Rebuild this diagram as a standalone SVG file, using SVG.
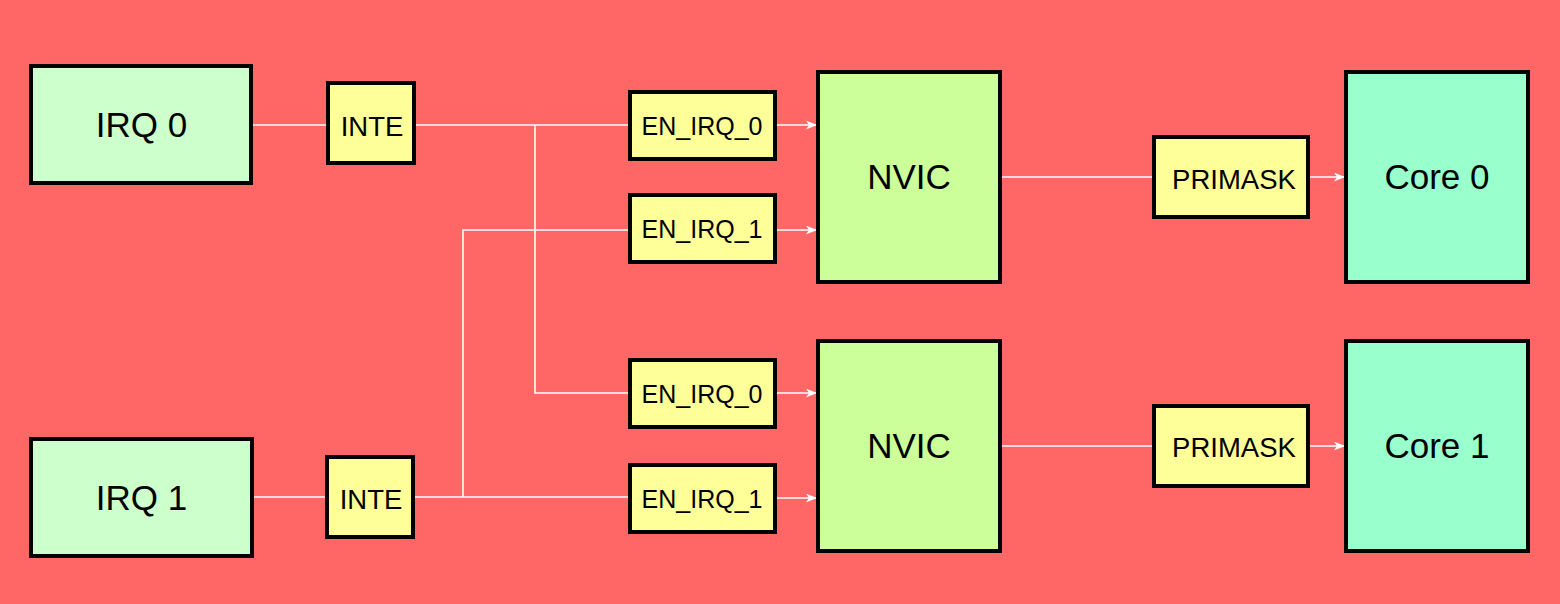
<svg xmlns="http://www.w3.org/2000/svg" width="1560" height="604" viewBox="0 0 1560 604">
<defs>
<marker id="arr" markerWidth="12" markerHeight="10" refX="11" refY="4.5" orient="auto" markerUnits="userSpaceOnUse">
<path d="M0,0 L11,4.5 L0,9 L3,4.5 z" fill="#ffffff"/>
</marker>
<style>
.box{stroke:#000;stroke-width:4}
.irq{fill:#CCFFCC}
.reg{fill:#FFFF99}
.nvic{fill:#CCFF99}
.core{fill:#99FFCC}
text{font-family:"Liberation Sans",Arial,Helvetica,sans-serif;fill:#000;text-anchor:middle}
.big{font-size:35px}
.mid{font-size:27.5px}
.sm{font-size:25px}
.wire{fill:none;stroke:#ffffff;stroke-width:1.6}
.arrow{marker-end:url(#arr)}
</style>
</defs>
<rect x="0" y="0" width="1560" height="604" fill="#FF6666"/>
<g id="connectors">
<path class="wire" d="M251,125 H328"/>
<path class="wire" d="M414,125 H630"/>
<path class="wire" d="M535,125 V393 H630"/>
<path class="wire" d="M252,497 H327"/>
<path class="wire" d="M413,497 H630"/>
<path class="wire" d="M463,497 V230 H630"/>
<path class="wire arrow" d="M775,125 H817"/>
<path class="wire arrow" d="M775,230 H817"/>
<path class="wire arrow" d="M775,393 H817"/>
<path class="wire arrow" d="M775,498 H817"/>
<path class="wire" d="M1000,177 H1154"/>
<path class="wire" d="M1000,446 H1154"/>
<path class="wire arrow" d="M1308,177 H1345"/>
<path class="wire arrow" d="M1308,446 H1345"/>
</g>
<g id="irq0"><rect class="box irq" x="31" y="66" width="220" height="117"/><text class="big" x="141.5" y="136.5">IRQ 0</text></g>
<g id="irq1"><rect class="box irq" x="31" y="439" width="221" height="117"/><text class="big" x="141.5" y="509.5">IRQ 1</text></g>
<g id="inte0"><rect class="box reg" x="328" y="83" width="86" height="80"/><text class="mid" x="372" y="135.5">INTE</text></g>
<g id="inte1"><rect class="box reg" x="327" y="457" width="86" height="80"/><text class="mid" x="371" y="509">INTE</text></g>
<g id="en00"><rect class="box reg" x="630" y="92" width="145" height="67"/><text class="sm" x="702" y="135">EN_IRQ_0</text></g>
<g id="en01"><rect class="box reg" x="630" y="195" width="145" height="67"/><text class="sm" x="702" y="237.5">EN_IRQ_1</text></g>
<g id="en10"><rect class="box reg" x="630" y="360" width="145" height="67"/><text class="sm" x="702" y="403">EN_IRQ_0</text></g>
<g id="en11"><rect class="box reg" x="630" y="465" width="145" height="67"/><text class="sm" x="702" y="507.5">EN_IRQ_1</text></g>
<g id="nvic0"><rect class="box nvic" x="818" y="72" width="182" height="210"/><text class="big" x="909" y="188.5">NVIC</text></g>
<g id="nvic1"><rect class="box nvic" x="818" y="341" width="182" height="210"/><text class="big" x="909" y="457.5">NVIC</text></g>
<g id="primask0"><rect class="box reg" x="1154" y="137" width="154" height="80"/><text class="mid" x="1234" y="189">PRIMASK</text></g>
<g id="primask1"><rect class="box reg" x="1154" y="406" width="154" height="80"/><text class="mid" x="1234" y="457">PRIMASK</text></g>
<g id="core0"><rect class="box core" x="1346" y="72" width="182" height="210"/><text class="big" x="1437" y="189">Core 0</text></g>
<g id="core1"><rect class="box core" x="1346" y="341" width="182" height="210"/><text class="big" x="1437" y="457.5">Core 1</text></g>
</svg>
